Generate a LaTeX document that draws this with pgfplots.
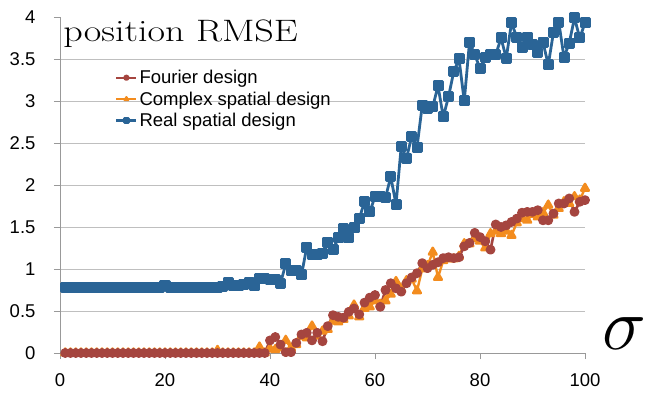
\RequirePackage{fix-cm}
\documentclass[border=0pt]{standalone}
\usepackage{pgfplots}
\pgfplotsset{compat=1.18}
\usepackage{fontspec}
\newfontfamily\arial{Liberation Sans}
\definecolor{cblue}{HTML}{2A6496}
\definecolor{cred}{HTML}{A5453F}
\definecolor{corange}{HTML}{F38C1E}
\begin{document}
\begin{tikzpicture}[x=1pt,y=1pt]
\path[use as bounding box] (-60,-41) rectangle (591,353);
\begin{axis}[
 at={(0,0)}, anchor=south west,
 scale only axis, width=525pt, height=336pt,
 xmin=0, xmax=100, ymin=0, ymax=4,
 clip=false,
 axis x line*=bottom, axis y line*=left,
 axis line style={draw=black!40, line width=0.8pt, -},
 xtick={0,20,...,100},
 ytick={0,0.5,...,3.5},
 extra y ticks={4}, extra y tick style={grid=none},
 ymajorgrids, major grid style={draw=black!25, line width=0.9pt},
 tick align=outside, major tick length=6pt,
 tick style={draw=black!40, line width=0.8pt},
 /pgf/number format/assume math mode=true,
 tick label style={font=\arial\fontsize{18.5}{20}\selectfont},
 yticklabel style={xshift=-15pt},
 xticklabel style={yshift=-11pt},
 legend style={at={(rel axis cs:0.105,0.848)}, anchor=north west, draw=none, fill=none,
   font=\arial\fontsize{18.5}{20}\selectfont, row sep=2.5pt, inner sep=0pt},
 legend cell align=left, reverse legend,
 legend image code/.code={\draw[mark repeat=2,mark phase=2,#1] plot coordinates {(0pt,0pt)(10pt,0pt)(20pt,0pt)};},
 legend image post style={mark size=2pt, line width=2.2pt},
]
\addplot[cblue, line width=2.8pt, line join=round, mark=square*, mark size=4.1pt, mark options={solid}] coordinates {
(1,0.78)(2,0.78)(3,0.78)(4,0.78)(5,0.78)(6,0.78)(7,0.78)(8,0.78)(9,0.78)(10,0.78)
(11,0.78)(12,0.78)(13,0.78)(14,0.78)(15,0.78)(16,0.78)(17,0.78)(18,0.78)(19,0.78)(20,0.80)
(21,0.78)(22,0.78)(23,0.78)(24,0.78)(25,0.78)(26,0.78)(27,0.78)(28,0.78)(29,0.78)(30,0.78)
(31,0.79)(32,0.84)(33,0.80)(34,0.80)(35,0.81)(36,0.84)(37,0.80)(38,0.89)(39,0.89)(40,0.88)
(41,0.87)(42,0.83)(43,1.06)(44,0.98)(45,0.98)(46,0.93)(47,1.26)(48,1.17)(49,1.17)(50,1.19)
(51,1.32)(52,1.23)(53,1.37)(54,1.48)(55,1.37)(56,1.49)(57,1.60)(58,1.80)(59,1.68)(60,1.86)
(61,1.86)(62,1.85)(63,2.10)(64,1.77)(65,2.46)(66,2.32)(67,2.58)(68,2.45)(69,2.95)(70,2.91)
(71,2.93)(72,3.18)(73,2.81)(74,3.05)(75,3.35)(76,3.50)(77,3.00)(78,3.70)(79,3.55)(80,3.39)
(81,3.52)(82,3.55)(83,3.55)(84,3.75)(85,3.51)(86,3.93)(87,3.76)(88,3.64)(89,3.76)(90,3.67)
(91,3.58)(92,3.70)(93,3.43)(94,3.82)(95,3.94)(96,3.52)(97,3.69)(98,3.99)(99,3.75)(100,3.93)
};
\addlegendentry{Real spatial design}
\addplot[corange, line width=2.4pt, line join=round, mark=triangle*, mark size=4.5pt, mark options={solid}] coordinates {
(1,0)(2,0)(3,0)(4,0)(5,0)(6,0)(7,0)(8,0)(9,0)(10,0)
(11,0)(12,0)(13,0)(14,0)(15,0)(16,0)(17,0)(18,0)(19,0)(20,0)
(21,0)(22,0)(23,0)(24,0)(25,0)(26,0)(27,0)(28,0)(29,0)(30,0.03)
(31,0)(32,0)(33,0)(34,0)(35,0)(36,0)(37,0)(38,0.07)(39,0)(40,0.05)
(41,0.04)(42,0.06)(43,0.15)(44,0.06)(45,0.10)(46,0.20)(47,0.18)(48,0.32)(49,0.20)(50,0.26)
(51,0.28)(52,0.38)(53,0.37)(54,0.40)(55,0.44)(56,0.57)(57,0.43)(58,0.53)(59,0.55)(60,0.62)
(61,0.58)(62,0.62)(63,0.70)(64,0.85)(65,0.76)(66,0.86)(67,0.88)(68,0.74)(69,1.00)(70,1.04)
(71,1.20)(72,0.90)(73,1.10)(74,1.12)(75,1.12)(76,1.15)(77,1.30)(78,1.30)(79,1.36)(80,1.33)
(81,1.25)(82,1.42)(83,1.45)(84,1.42)(85,1.45)(86,1.40)(87,1.55)(88,1.60)(89,1.58)(90,1.65)
(91,1.62)(92,1.67)(93,1.76)(94,1.64)(95,1.72)(96,1.80)(97,1.78)(98,1.86)(99,1.82)(100,1.96)
};
\addlegendentry{Complex spatial design}
\addplot[cred, line width=2.6pt, line join=round, mark=*, mark size=3.6pt, mark options={solid}] coordinates {
(1,0)(2,0)(3,0)(4,0)(5,0)(6,0)(7,0)(8,0)(9,0)(10,0)
(11,0)(12,0)(13,0)(14,0)(15,0)(16,0)(17,0)(18,0)(19,0)(20,0)
(21,0)(22,0)(23,0)(24,0)(25,0)(26,0)(27,0)(28,0)(29,0)(30,0)
(31,0)(32,0)(33,0)(34,0)(35,0)(36,0)(37,0)(38,0)(39,0)(40,0.15)
(41,0.19)(42,0.10)(43,0.01)(44,0.01)(45,0.12)(46,0.22)(47,0.24)(48,0.15)(49,0.24)(50,0.14)
(51,0.32)(52,0.45)(53,0.43)(54,0.42)(55,0.49)(56,0.53)(57,0.46)(58,0.60)(59,0.66)(60,0.69)
(61,0.55)(62,0.75)(63,0.83)(64,0.77)(65,0.73)(66,0.83)(67,0.90)(68,0.95)(69,1.07)(70,1.01)
(71,1.05)(72,1.08)(73,1.13)(74,1.14)(75,1.13)(76,1.14)(77,1.27)(78,1.31)(79,1.43)(80,1.38)
(81,1.33)(82,1.23)(83,1.53)(84,1.50)(85,1.52)(86,1.56)(87,1.60)(88,1.67)(89,1.68)(90,1.68)
(91,1.70)(92,1.58)(93,1.58)(94,1.66)(95,1.78)(96,1.78)(97,1.84)(98,1.68)(99,1.80)(100,1.82)
};
\addlegendentry{Fourier design}
\node[anchor=base west, inner sep=0pt, font=\fontsize{31}{34}\selectfont] at (rel axis cs:0.006,0.926) {\scalebox{1.23}[1]{position RMSE}};
\node[anchor=base west, inner sep=0pt, font=\fontsize{74}{80}\selectfont] at (rel axis cs:1.032,0.009) {$\sigma$};
\end{axis}
\end{tikzpicture}
\end{document}
